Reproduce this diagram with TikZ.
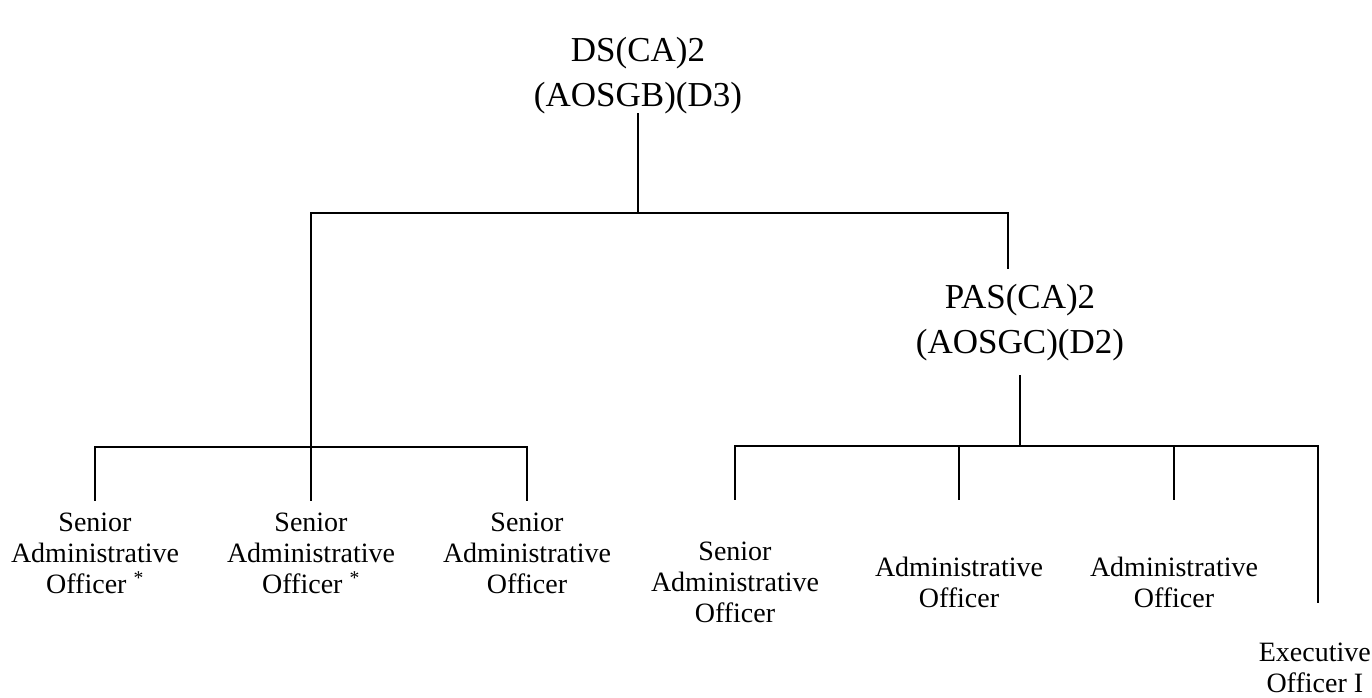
\documentclass[tikz,border=0pt]{standalone}
\usepackage{fontspec}
\setmainfont{Liberation Serif}
\begin{document}
\begin{tikzpicture}[x=1pt,y=-1pt]
\tikzset{
  head/.style={font=\fontsize{35}{45}\selectfont, align=center, inner sep=0pt},
  post/.style={font=\fontsize{28}{31}\selectfont, align=center, inner sep=0pt},
  link/.style={line width=2.2pt, line cap=rect}
}
\useasboundingbox (0,0) rectangle (1372,698);

% heads
\node[head] (ds)  at (638,76)  {DS(CA)2\\(AOSGB)(D3)};
\node[head] (pas) at (1020,323) {PAS(CA)2\\(AOSGC)(D2)};

% posts
\node[post] (s1) at (95,553)  {Senior\\Administrative\\Officer \textsuperscript{*}};
\node[post] (s2) at (311,553) {Senior\\Administrative\\Officer \textsuperscript{*}};
\node[post] (s3) at (527,553) {Senior\\Administrative\\Officer};
\node[post] (s4) at (735,582) {Senior\\Administrative\\Officer};
\node[post] (a1) at (959,582) {Administrative\\Officer};
\node[post] (a2) at (1174,582) {Administrative\\Officer};
\node[post, anchor=east] (e1) at (1371,668) {Executive\\Officer I};

% junctions and line ends
\coordinate (dsfoot) at (638,114);
\coordinate (dsbar)  at (638,213);
\coordinate (barL)   at (311,213);
\coordinate (barR)   at (1008,213);
\coordinate (pashead) at (1008,268);
\coordinate (pasfoot) at (1020,376);
\coordinate (pasbar)  at (1020,446);
\coordinate (rL) at (735,446);
\coordinate (rR) at (1318,446);
\coordinate (lL) at (95,447);
\coordinate (lR) at (527,447);
\coordinate (s1top) at (95,500);
\coordinate (s2top) at (311,500);
\coordinate (s3top) at (527,500);
\coordinate (s4top) at (735,499);
\coordinate (a1top) at (959,499);
\coordinate (a2top) at (1174,499);
\coordinate (e1top) at (1318,602);

% upper level
\draw[link] (dsfoot) -- (dsbar);
\draw[link] (pashead) -- (barR) -- (barL) -- (s2top);

% left group
\draw[link] (s1top) -- (lL) -- (lR) -- (s3top);

% right group
\draw[link] (pasfoot) -- (pasbar);
\draw[link] (s4top) -- (rL) -- (rR) -- (e1top);
\draw[link] (a1top) -- (a1top |- rL);
\draw[link] (a2top) -- (a2top |- rL);
\end{tikzpicture}
\end{document}
